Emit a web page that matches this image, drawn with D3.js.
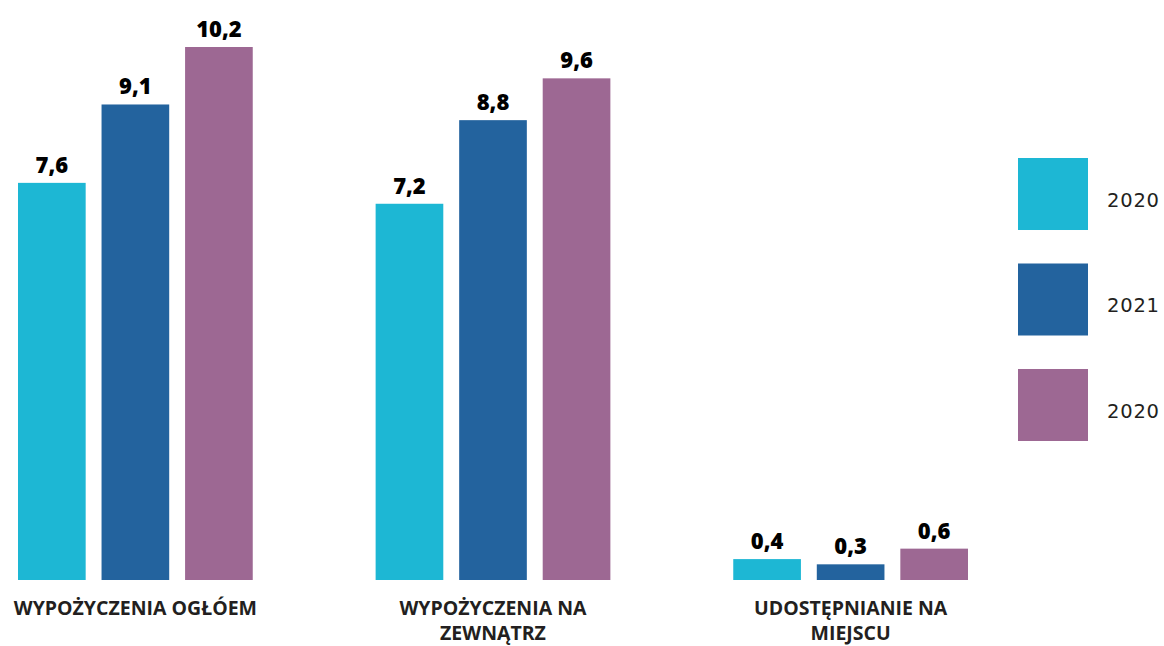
<!DOCTYPE html>
<meta charset="utf-8">
<script src="https://d3js.org/d3.v7.min.js"></script>
<style>
  body { margin: 0; background: #fff; }
</style>
<div id="my_dataviz"></div>
<script>

// data
const categories = [["WYPOŻYCZENIA OGŁÓEM"], ["WYPOŻYCZENIA NA", "ZEWNĄTRZ"], ["UDOSTĘPNIANIE NA", "MIEJSCU"]];
const seriesNames = ["2020", "2021", "2020"];
const values2020a = [7.6, 7.2, 0.4];
const values2021 = [9.1, 8.8, 0.3];
const values2020b = [10.2, 9.6, 0.6];
const colors = ["#1db7d4", "#23639e", "#9d6893"];

const series = [values2020a, values2021, values2020b];
const data = categories.map((c, i) => ({
  key: i,
  label: c,
  vals: series.map((s, j) => ({ s: j, value: s[i] }))
}));

const width = 1164, height = 646;

const svg = d3.select("#my_dataviz")
  .append("svg")
    .attr("width", width)
    .attr("height", height);

// group scale
const x0 = d3.scaleBand()
  .domain(data.map(d => d.key))
  .range([18, 968])
  .paddingInner(0.3436)
  .paddingOuter(0);

// bars inside a group
const x1 = d3.scaleBand()
  .domain(series.map((s, j) => j))
  .range([0, x0.bandwidth()])
  .paddingInner(0.19)
  .paddingOuter(0);

const y = d3.scaleLinear()
  .domain([0, 10.2])
  .range([580, 47]);

const groups = svg.selectAll("g.grp")
  .data(data)
  .join("g")
    .attr("class", "grp")
    .attr("transform", d => `translate(${x0(d.key)},0)`);

groups.selectAll("rect")
  .data(d => d.vals)
  .join("rect")
    .attr("x", d => x1(d.s))
    .attr("y", d => y(d.value))
    .attr("width", x1.bandwidth())
    .attr("height", d => y(0) - y(d.value))
    .attr("fill", d => colors[d.s]);

// value labels
groups.selectAll("text.val")
  .data(d => d.vals)
  .join("text")
    .attr("class", "val")
    .attr("x", d => x1(d.s) + x1.bandwidth() / 2)
    .attr("y", d => y(d.value) - 10)
    .attr("text-anchor", "middle")
    .style("font-family", "'Open Sans', sans-serif")
    .style("font-weight", "800")
    .style("font-size", "22px")
    .style("fill", "#000")
    .text(d => String(d.value.toFixed(1)).replace(".", ","));

// category labels
groups.append("text")
    .attr("text-anchor", "middle")
    .attr("x", x0.bandwidth() / 2)
    .attr("y", 615)
    .style("font-family", "'Open Sans', sans-serif")
    .style("font-weight", "bold")
    .style("font-size", "19.5px")
    .style("fill", "#231f20")
  .selectAll("tspan")
  .data(d => d.label)
  .join("tspan")
    .attr("x", x0.bandwidth() / 2)
    .attr("dy", (d, i) => i ? 25 : 0)
    .text(d => d);

// legend
const leg = d3.scaleBand()
  .domain(seriesNames.map((s, j) => j))
  .range([158, 441])
  .paddingInner(0.3175)
  .paddingOuter(0);

const legend = svg.selectAll("g.leg")
  .data(seriesNames)
  .join("g")
    .attr("class", "leg")
    .attr("transform", (d, i) => `translate(1018,${leg(i)})`);

legend.append("rect")
  .attr("width", 70)
  .attr("height", leg.bandwidth())
  .attr("fill", (d, i) => colors[i]);

legend.append("text")
  .attr("x", 89)
  .attr("y", leg.bandwidth() / 2 + 13)
  .style("font-family", "'DejaVu Sans', sans-serif")
  .style("font-size", "19.5px")
  .style("letter-spacing", "0.8px")
  .style("fill", "#231f20")
  .text(d => d);

</script>
